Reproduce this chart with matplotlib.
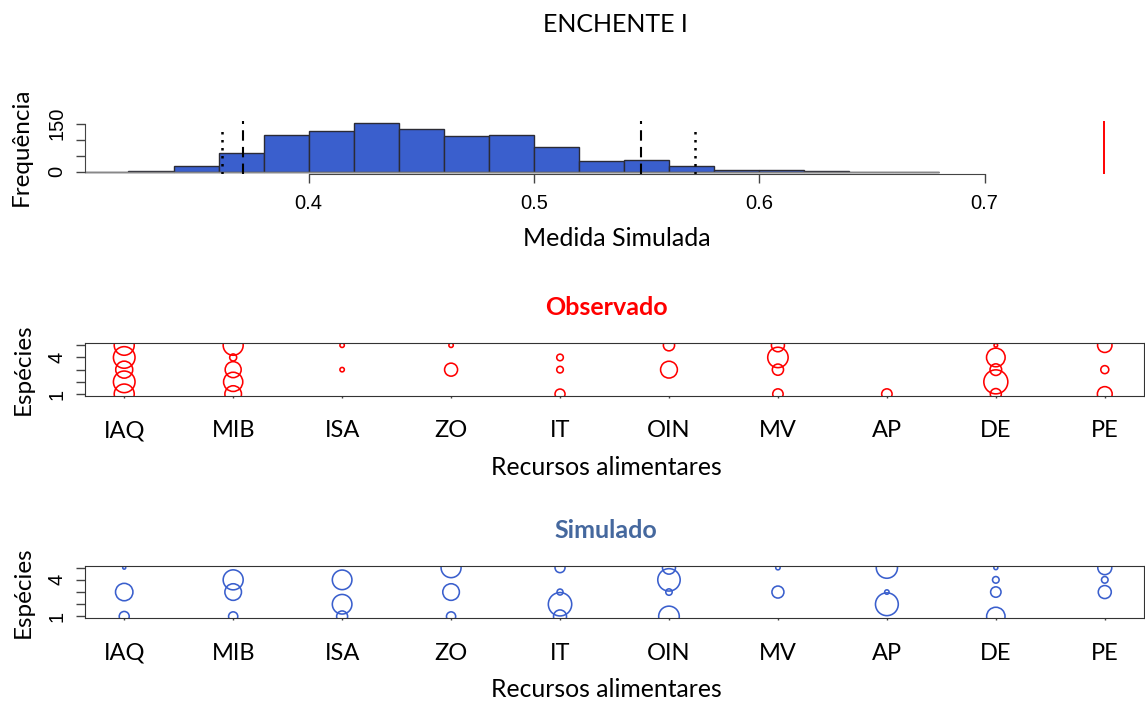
import numpy as np
import matplotlib
matplotlib.use('Agg')
from matplotlib import pyplot as plt

plt.rcParams['font.family'] = ['Lato', 'DejaVu Sans']

###data###

# histogram of the simulated measure
bin_edges = [0.30, 0.32, 0.34, 0.36, 0.38, 0.40, 0.42, 0.44, 0.46, 0.48,
             0.50, 0.52, 0.54, 0.56, 0.58, 0.60, 0.62, 0.64, 0.66, 0.68]
bin_counts = [0, 1, 17, 57, 114, 128, 152, 134, 110, 114,
              78, 32, 35, 18, 6, 6, 2, 0, 0]
observed_value = 0.753
q_dashed = [0.3708, 0.5475]
q_dotted = [0.3614, 0.5716]

# bubble panels: one row per food resource, one value per species (1..5)
categories = ['IAQ', 'MIB', 'ISA', 'ZO', 'IT', 'OIN', 'MV', 'AP', 'DE', 'PE']
species = [1, 2, 3, 4, 5]
observed = [[10.0, 10.8, 8.5, 10.8, 10.0],
            [8.3, 9.6, 8.0, 3.5, 10.0],
            [0, 0, 2.2, 0, 2.2],
            [0, 0, 6.5, 0, 2.2],
            [5.0, 0, 3.3, 3.3, 0],
            [0, 0, 8.4, 0, 5.6],
            [5.2, 0, 5.6, 10.2, 6.5],
            [5.2, 0, 0, 0, 0],
            [5.5, 12.0, 5.8, 9.3, 1.8],
            [7.4, 0, 4.0, 0, 7.2]]
simulated = [[5.0, 0, 8.7, 0, 1.5],
             [4.6, 0, 8.3, 10.0, 0],
             [5.5, 9.8, 0, 9.8, 0],
             [4.6, 0, 8.3, 0, 10.0],
             [6.5, 11.7, 3.0, 0, 5.0],
             [10.3, 0, 3.2, 11.2, 6.5],
             [0, 0, 6.0, 0, 2.2],
             [0, 11.4, 2.2, 0, 10.6],
             [9.2, 0, 5.2, 3.3, 2.0],
             [0, 0, 6.5, 3.3, 7.0]]

###figure###
W, H = 1145, 702
fig = plt.figure(figsize=(W / 100, H / 100), dpi=100)
px = 72 / fig.dpi
num_font = ['Liberation Sans', 'DejaVu Sans']


def box(left, top, right, bottom):
    # pixel box -> figure fraction
    return [left / W, 1 - bottom / H, (right - left) / W, (bottom - top) / H]


def fy(y):
    return 1 - y / H


def fx(x):
    return x / W


###histogram###
ax_h = fig.add_axes(box(85, 121.1, 1144, 173.6))
ax_h.hlines(0, bin_edges[0], bin_edges[-1], colors='#888888', lw=1.0)
ax_h.bar(bin_edges[:-1], bin_counts, width=np.diff(bin_edges), align='edge',
         color='#3A5FCD', edgecolor='#2b2b35', linewidth=1.0)
ax_h.vlines(q_dashed, -6, 158, colors='black', linestyles=(0, (5, 3)), lw=1.5)
ax_h.vlines(q_dotted, -6, 143, colors='black', linestyles=(0, (1, 2.2)), lw=1.8)
ax_h.vlines(observed_value, -6, 158, colors='red', lw=1.4)
ax_h.set_xlim(0.3007, 0.7708)
ax_h.set_ylim(-6, 158)
for s in ['top', 'right']:
    ax_h.spines[s].set_visible(False)
ax_h.spines['bottom'].set_bounds(0.4, 0.7)
ax_h.spines['left'].set_bounds(0, 150)
for s in ['bottom', 'left']:
    ax_h.spines[s].set_color('#444444')
ax_h.set_xticks([0.4, 0.5, 0.6, 0.7])
ax_h.set_xticklabels(['0.4', '0.5', '0.6', '0.7'], family=num_font, fontsize=14.5)
ax_h.set_yticks([0, 50, 100, 150])
ax_h.set_yticklabels(['0', '', '', '150'], family=num_font, fontsize=14.5,
                     rotation=90, va='center')
ax_h.tick_params(axis='x', length=6.5, width=1, color='#444444', pad=8)
ax_h.tick_params(axis='y', length=6.5, width=1, color='#444444', pad=7)

fig.text(fx(615), fy(32.3), 'ENCHENTE I', ha='center', va='baseline', fontsize=18)
fig.text(fx(617), fy(246), 'Medida Simulada', ha='center', va='baseline', fontsize=18)
fig.text(fx(21), fy(147), 'Frequência', ha='center', va='center', rotation=90,
         fontsize=17.5)


###bubble panels###
def bubbles(top, sizes, color, title, title_color):
    bottom = top + 52.7
    ax = fig.add_axes(box(85, top, 1144, bottom))
    xs, ys, ss = [], [], []
    for i, row in enumerate(sizes):
        for sp, r in zip(species, row):
            if r > 0:
                xs.append(i + 1)
                ys.append(sp)
                ss.append((2 * r * px) ** 2)
    ax.scatter(xs, ys, s=ss, facecolors='none', edgecolors=color, linewidths=1.15)
    ax.set_xlim(0.64, 10.36)
    ax.set_ylim(0.84, 5.16)
    ax.set_xticks(range(1, len(categories) + 1))
    ax.set_xticklabels(categories, fontsize=17)
    ax.set_yticks(species)
    ax.set_yticklabels(['1', '', '', '4', ''], family=num_font, fontsize=14.5,
                       rotation=90, va='center')
    ax.tick_params(axis='x', length=1.5, width=1, color='#444444', pad=16)
    ax.tick_params(axis='y', length=6.5, width=1, color='#444444', pad=7)
    for s in ax.spines.values():
        s.set_color('#333333')
    fig.text(fx(606), fy(top - 28), title, ha='center', va='baseline',
             fontsize=18, fontweight='bold', color=title_color)
    fig.text(fx(606), fy(bottom + 79), 'Recursos alimentares', ha='center',
             va='baseline', fontsize=17.8)
    fig.text(fx(23), fy((top + bottom) / 2), 'Espécies', ha='center', va='center',
             rotation=90, fontsize=17.5)
    return ax


bubbles(343.3, observed, 'red', 'Observado', 'red')
bubbles(565.7, simulated, '#3A5FCD', 'Simulado', '#45689E')

plt.savefig('out.png', dpi=100)
